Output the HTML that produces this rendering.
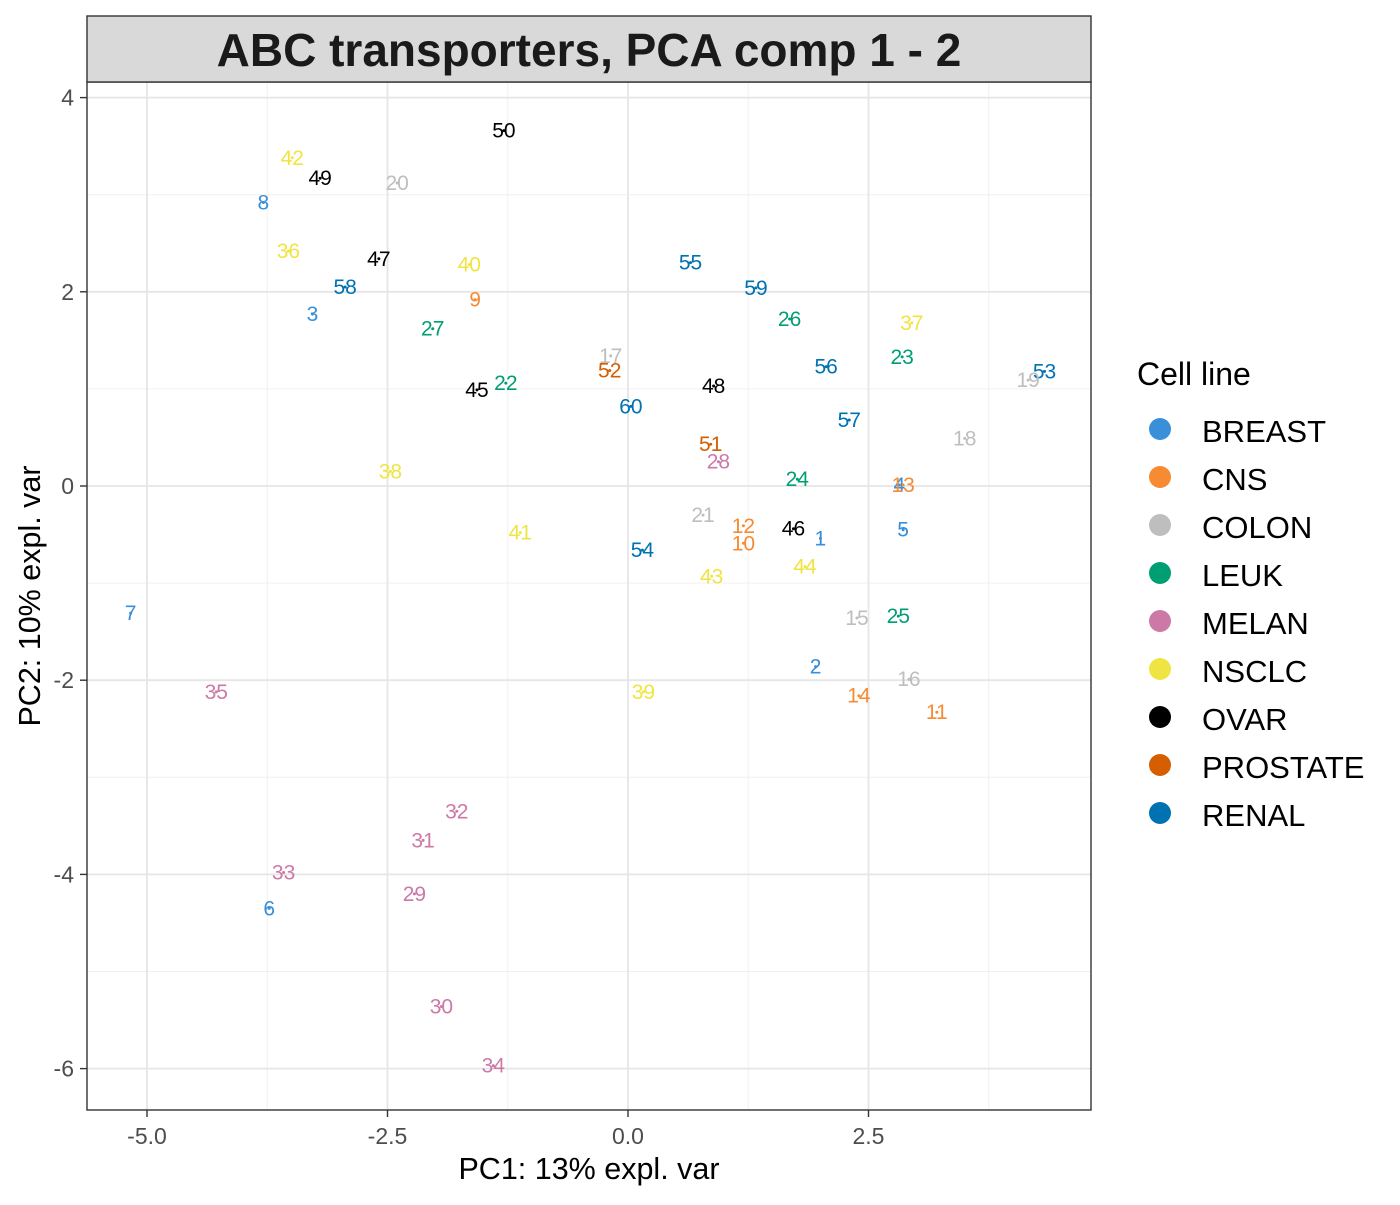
<!DOCTYPE html>
<html><head><meta charset="utf-8"><style>
body{margin:0;background:#fff;font-family:"Liberation Sans",sans-serif;}
svg text{font-family:"Liberation Sans",sans-serif;}
</style></head><body>
<svg id="chart" width="1400" height="1200" viewBox="0 0 1400 1200" xmlns="http://www.w3.org/2000/svg">
<rect x="0" y="0" width="1400" height="1200" fill="#fff"/>
<g id="grid"></g>
<g id="points"></g>
<rect x="87" y="82" width="1004" height="1028" fill="none" stroke="#333" stroke-width="1.4"/>
<rect x="87" y="16" width="1004" height="66" fill="#d9d9d9" stroke="#333" stroke-width="1.4"/>
<text x="589" y="66" text-anchor="middle" font-size="46" font-weight="bold" fill="#1a1a1a">ABC transporters, PCA comp 1 - 2</text>
<g id="axes"></g>
<text x="589" y="1179" text-anchor="middle" font-size="30.5" fill="#000">PC1: 13% expl. var</text>
<text transform="translate(40,596) rotate(-90)" text-anchor="middle" font-size="30.5" fill="#000">PC2: 10% expl. var</text>
<g id="legend">
<text x="1137" y="385" font-size="32" fill="#000">Cell line</text>
</g>
</svg>
<script>
const groups=["BREAST","CNS","COLON","LEUK","MELAN","NSCLC","OVAR","PROSTATE","RENAL"];
const colors=["#3a8fd9","#f68b33","#bebebe","#009e73","#cc79a7","#f0e442","#000000","#d55e00","#0072b2"];
const labels=[50,42,49,20,8,36,47,40,55,58,9,59,3,26,37,27,23,17,52,56,53,19,45,22,48,60,57,18,51,28,38,24,4,13,21,12,46,5,41,1,10,54,44,43,7,15,25,2,16,35,39,14,11,32,31,33,29,6,30,34];
const xs=[-1.29,-3.49,-3.20,-2.40,-3.79,-3.53,-2.59,-1.65,0.65,-2.94,-1.59,1.33,-3.28,1.68,2.95,-2.03,2.85,-0.18,-0.19,2.06,4.33,4.16,-1.57,-1.27,0.89,0.03,2.30,3.50,0.86,0.94,-2.47,1.76,2.82,2.86,0.78,1.20,1.72,2.86,-1.12,2.00,1.20,0.15,1.84,0.87,-5.17,2.38,2.81,1.95,2.92,-4.28,0.16,2.40,3.21,-1.78,-2.13,-3.58,-2.22,-3.73,-1.94,-1.40];
const ys=[3.66,3.38,3.17,3.12,2.92,2.42,2.34,2.28,2.30,2.05,1.92,2.04,1.77,1.72,1.68,1.62,1.33,1.34,1.19,1.23,1.18,1.09,0.99,1.06,1.03,0.82,0.68,0.49,0.43,0.25,0.15,0.07,0.01,0.01,-0.30,-0.41,-0.44,-0.45,-0.48,-0.54,-0.59,-0.66,-0.83,-0.93,-1.31,-1.36,-1.34,-1.86,-1.99,-2.12,-2.12,-2.16,-2.33,-3.35,-3.65,-3.98,-4.20,-4.35,-5.36,-5.97];
const grp=[6,5,6,2,0,5,6,5,8,8,1,8,0,3,5,3,3,2,7,8,8,2,6,3,6,8,8,2,7,4,5,3,0,1,2,1,6,0,5,0,1,8,5,5,0,2,3,0,2,4,5,1,1,4,4,4,4,0,4,4];
const xTicks=[-5,-2.5,0,2.5];
const xTickLabels=["-5.0","-2.5","0.0","2.5"];
const yTicks=[4,2,0,-2,-4,-6];
const yTickLabels=["4","2","0","-2","-4","-6"];
const NS="http://www.w3.org/2000/svg";
const X=v=>628+v*96.2, Y=v=>486-v*97.1;
function mk(p,t,a){const e=document.createElementNS(NS,t);for(const k in a)e.setAttribute(k,a[k]);p.appendChild(e);return e;}
const grid=document.getElementById('grid'),axes=document.getElementById('axes'),pts=document.getElementById('points'),leg=document.getElementById('legend');
mk(grid,'rect',{x:87,y:82,width:1004,height:1028,fill:'#fff'});
[-3.75,-1.25,1.25,3.75].forEach(v=>{const l=mk(grid,'line',{x1:X(v),x2:X(v),y1:82,y2:1110,stroke:'#f0f0f0','stroke-width':1});

});
[3,1,-1,-3,-5].forEach(v=>{const l=mk(grid,'line',{x1:87,x2:1091,y1:Y(v),y2:Y(v),stroke:'#f0f0f0','stroke-width':1});

});
xTicks.forEach((v,i)=>{const l=mk(grid,'line',{x1:X(v),x2:X(v),y1:82,y2:1110,stroke:'#e6e6e6','stroke-width':1.8});


mk(axes,'line',{x1:X(v),x2:X(v),y1:1110,y2:1117,stroke:'#333','stroke-width':1.4});
const t=mk(axes,'text',{x:X(v),y:1144,'text-anchor':'middle','font-size':23,fill:'#4d4d4d'});t.textContent=xTickLabels[i];

});
yTicks.forEach((v,i)=>{const l=mk(grid,'line',{x1:87,x2:1091,y1:Y(v),y2:Y(v),stroke:'#e6e6e6','stroke-width':1.8});


mk(axes,'line',{x1:80,x2:87,y1:Y(v),y2:Y(v),stroke:'#333','stroke-width':1.4});
const t=mk(axes,'text',{x:74,y:Y(v)+8,'text-anchor':'end','font-size':23,fill:'#4d4d4d'});t.textContent=yTickLabels[i];

});
labels.forEach((lb,i)=>{const c=colors[grp[i]];
const d=mk(pts,'circle',{cx:X(xs[i]),cy:Y(ys[i]),r:1.5,fill:c});


const t=mk(pts,'text',{x:X(xs[i]),y:Y(ys[i])+7,'text-anchor':'middle','font-size':21,fill:c});t.textContent=lb;

});
groups.forEach((g,i)=>{const y=431+i*48;
const c=mk(leg,'circle',{cx:1160,cy:y-2,r:11,fill:colors[i]});


const t=mk(leg,'text',{x:1202,y:y+11,'font-size':31,fill:'#000'});t.textContent=g;

});
</script>
</body></html>
